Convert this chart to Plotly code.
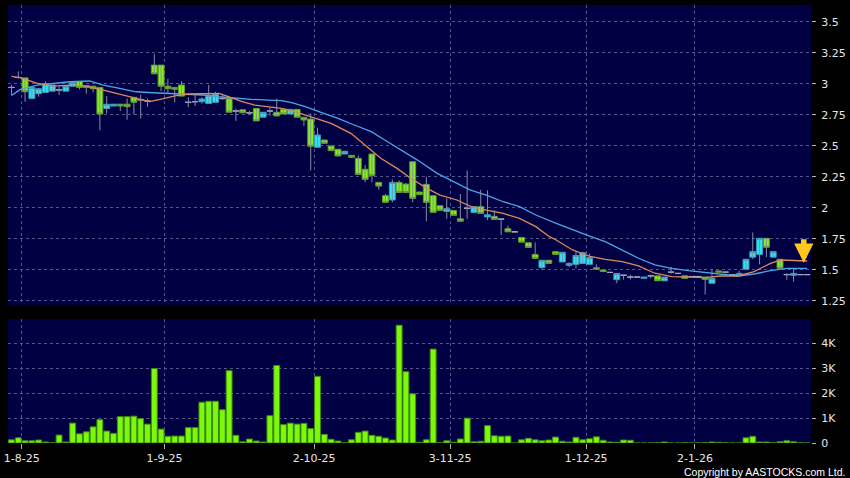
import plotly.graph_objects as go

# ---- data (one slot per trading session shown on the chart) ----
sessions = list(range(118))

opens = [
    2.97, 3.05, 3.047, 2.88, 2.92, 2.93, 2.94, 2.95, 2.94, 2.98,
    3.018, 2.985, 2.98, 2.97, 2.80, 2.82, 2.835, 2.835, 2.89, 2.87,
    2.86, 3.15, 3.15, 2.98, 2.97, 2.99, 2.85, 2.855, 2.855, 2.84,
    2.85, 2.88, 2.88, 2.78, 2.79, 2.765, 2.80, 2.73, 2.78, 2.77,
    2.793, 2.756, 2.793, 2.729, 2.715, 2.487, 2.546, 2.498, 2.471, 2.433,
    2.422, 2.398, 2.31, 2.433, 2.204, 2.097, 2.062, 2.204, 2.19, 2.371,
    2.126, 2.188, 2.097, 2.016, 1.97, 1.978, 1.91, 1.995, 1.962, 2.008,
    1.925, 1.93, 1.908, 1.83, 1.805, 1.76, 1.717, 1.623, 1.517, 1.576,
    1.645, 1.562, 1.535, 1.543, 1.55, 1.543, 1.516, 1.497, 1.478, 1.419,
    1.455, 1.44, 1.44, 1.43, 1.45, 1.45, 1.41, 1.48, 1.47, 1.45,
    1.445, 1.445, 1.44, 1.39, 1.49, 1.48, 1.46, 1.45, 1.503, 1.601,
    1.623, 1.753, 1.601, 1.584, 1.46, 1.455, 1.46, 1.46]

highs = [
    2.99, 3.10, 3.047, 2.97, 2.96, 3.02, 2.99, 2.98, 2.98, 3.01,
    3.018, 2.985, 2.98, 2.97, 2.90, 2.835, 2.835, 2.88, 2.89, 2.91,
    2.88, 3.24, 3.15, 3.04, 2.97, 3.02, 2.89, 2.91, 2.89, 2.99,
    2.935, 2.92, 2.88, 2.80, 2.79, 2.78, 2.80, 2.77, 2.81, 2.88,
    2.80, 2.793, 2.793, 2.729, 2.76, 2.645, 2.546, 2.498, 2.471, 2.455,
    2.422, 2.42, 2.344, 2.433, 2.204, 2.11, 2.228, 2.22, 2.20, 2.371,
    2.13, 2.25, 2.097, 2.016, 2.075, 1.978, 2.11, 2.30, 2.008, 2.144,
    2.14, 1.98, 1.91, 1.855, 1.805, 1.76, 1.717, 1.72, 1.576, 1.576,
    1.645, 1.64, 1.56, 1.645, 1.645, 1.63, 1.543, 1.497, 1.478, 1.47,
    1.46, 1.46, 1.44, 1.44, 1.46, 1.45, 1.44, 1.522, 1.47, 1.45,
    1.445, 1.445, 1.44, 1.50, 1.49, 1.48, 1.46, 1.49, 1.584, 1.80,
    1.753, 1.753, 1.646, 1.584, 1.471, 1.511, 1.46, 1.46]

lows = [
    2.907, 3.04, 2.854, 2.88, 2.895, 2.93, 2.94, 2.91, 2.94, 2.98,
    2.954, 2.92, 2.93, 2.625, 2.76, 2.82, 2.78, 2.71, 2.75, 2.72,
    2.815, 3.08, 2.94, 2.92, 2.85, 2.90, 2.81, 2.82, 2.84, 2.84,
    2.85, 2.87, 2.77, 2.70, 2.765, 2.75, 2.70, 2.73, 2.74, 2.74,
    2.755, 2.756, 2.729, 2.66, 2.30, 2.487, 2.519, 2.46, 2.417, 2.433,
    2.401, 2.268, 2.204, 2.204, 2.146, 2.043, 2.043, 2.123, 2.123, 2.043,
    2.105, 1.89, 1.962, 1.978, 1.91, 1.938, 1.89, 1.91, 1.962, 1.954,
    1.90, 1.905, 1.78, 1.805, 1.805, 1.722, 1.679, 1.59, 1.497, 1.55,
    1.623, 1.562, 1.52, 1.51, 1.55, 1.543, 1.503, 1.48, 1.478, 1.39,
    1.42, 1.42, 1.44, 1.43, 1.43, 1.41, 1.41, 1.468, 1.47, 1.43,
    1.445, 1.445, 1.30, 1.39, 1.48, 1.47, 1.46, 1.45, 1.503, 1.584,
    1.543, 1.601, 1.601, 1.511, 1.417, 1.403, 1.46, 1.46]

closes = [
    2.97, 3.05, 2.935, 2.97, 2.96, 3.00, 2.99, 2.95, 2.98, 3.01,
    2.97, 2.97, 2.96, 2.755, 2.834, 2.835, 2.82, 2.815, 2.85, 2.87,
    2.86, 3.08, 2.98, 2.96, 2.955, 2.90, 2.85, 2.855, 2.877, 2.908,
    2.92, 2.88, 2.77, 2.78, 2.765, 2.765, 2.70, 2.77, 2.78, 2.74,
    2.756, 2.793, 2.729, 2.707, 2.495, 2.587, 2.519, 2.46, 2.417, 2.455,
    2.406, 2.268, 2.228, 2.26, 2.174, 2.043, 2.204, 2.123, 2.123, 2.075,
    2.105, 2.043, 1.962, 1.978, 1.992, 1.938, 1.89, 1.995, 2.008, 1.954,
    1.943, 1.905, 1.908, 1.805, 1.805, 1.722, 1.679, 1.59, 1.576, 1.55,
    1.623, 1.64, 1.55, 1.615, 1.637, 1.597, 1.503, 1.485, 1.478, 1.47,
    1.455, 1.44, 1.44, 1.44, 1.45, 1.41, 1.44, 1.48, 1.47, 1.43,
    1.445, 1.445, 1.42, 1.43, 1.48, 1.48, 1.46, 1.47, 1.584, 1.646,
    1.753, 1.68, 1.646, 1.511, 1.46, 1.47, 1.46, 1.46]

volumes = [  # shares
    130, 210, 90, 90, 120, 40, 10, 320, 40, 800,
    370, 450, 650, 940, 480, 390, 1060, 1060, 1080, 980,
    760, 3000, 560, 270, 280, 280, 620, 620, 1640, 1680,
    1680, 1340, 2910, 310, 50, 160, 80, 40, 1100, 3120,
    740, 800, 760, 790, 580, 2680, 350, 150, 80, 10,
    130, 430, 480, 310, 270, 200, 120, 4740, 2870, 1980,
    30, 130, 3780, 10, 90, 30, 160, 1000, 50, 70,
    700, 290, 270, 280, 0, 130, 190, 130, 90, 120,
    240, 70, 40, 230, 130, 170, 250, 110, 40, 30,
    120, 110, 0, 0, 0, 10, 40, 0, 0, 10,
    0, 0, 20, 40, 30, 10, 0, 0, 210, 270,
    40, 40, 10, 50, 90, 50, 10, 0]

ma_short_x = [0, 1.3, 3.8, 6.2, 8.6, 11, 13.5, 15.9, 18.3, 20.3, 22.2, 24.2, 26.1, 28.1,
              30.5, 31.9, 33.9, 35.8, 37.8, 39.7, 41.2, 44.1, 47, 49.9, 51.4, 52.9, 54.3,
              56.7, 58.7, 61.1, 63, 65.5, 67.4, 69.8, 72.3, 74.7, 77.1, 79.1, 80.1, 82.5,
              84.9, 87.3, 89.8, 92.2, 94.6, 97.1, 99.5, 101.9, 104.3, 106.8, 109.2, 111.6,
              113.1, 115, 117]
ma_short = [3.06, 3.05, 3.003, 2.981, 2.989, 2.981, 2.949, 2.917, 2.882, 2.855, 2.877, 2.904,
            2.917, 2.922, 2.922, 2.895, 2.855, 2.828, 2.815, 2.801, 2.783, 2.729, 2.68, 2.60,
            2.53, 2.46, 2.398, 2.317, 2.237, 2.156, 2.102, 2.062, 2.013, 1.981, 1.954, 1.914,
            1.847, 1.766, 1.739, 1.659, 1.61, 1.583, 1.565, 1.53, 1.471, 1.444, 1.438, 1.436,
            1.449, 1.449, 1.484, 1.551, 1.578, 1.573, 1.57]

ma_long_x = [0, 1.3, 3.8, 6.2, 8.6, 11.5, 13.5, 15.9, 18.3, 20.8, 23.2, 25.6, 28.1, 30.5,
             32.9, 35.3, 37.8, 39.7, 41.2, 43.2, 45.6, 48, 50.4, 52.9, 55.3, 57.7, 59.7,
             62.6, 65.5, 67.4, 69.8, 72.3, 74.7, 77.1, 80.1, 82.5, 84.9, 87.3, 89.8, 92.2,
             94.6, 97.1, 99.5, 101.9, 104.3, 106.8, 109.2, 111.6, 114, 117]
ma_long = [2.905, 2.954, 2.989, 3.003, 3.016, 3.022, 2.989, 2.962, 2.935, 2.927, 2.922, 2.917,
           2.909, 2.895, 2.882, 2.874, 2.868, 2.863, 2.847, 2.815, 2.766, 2.721, 2.667, 2.613,
           2.532, 2.452, 2.384, 2.277, 2.196, 2.143, 2.102, 2.048, 2.008, 1.941, 1.874, 1.82,
           1.772, 1.726, 1.659, 1.592, 1.538, 1.511, 1.492, 1.476, 1.465, 1.449, 1.465, 1.492,
           1.511, 1.511]

date_tick_pos = [1.5, 22.5, 44.5, 64.5, 84.5, 100.5]
date_tick_labels = ["1-8-25", "1-9-25", "2-10-25", "3-11-25", "1-12-25", "2-1-26"]
price_ticks = [1.25, 1.5, 1.75, 2.0, 2.25, 2.5, 2.75, 3.0, 3.25, 3.5]
price_tick_labels = ["1.25", "1.5", "1.75", "2", "2.25", "2.5", "2.75", "3", "3.25", "3.5"]
vol_ticks = [0, 1000, 2000, 3000, 4000]
vol_tick_labels = ["0", "1K", "2K", "3K", "4K"]

signal_session = 116.5
signal_price = 1.555

# ---- styling ----
NAVY = "#000042"
GRID = "#55558a"
TXT = "#e6e6e6"
GREEN = "#84f01c"
GREEN_EDGE = "#5c9c28"
CYAN = "#2ee4f4"
CYAN_EDGE = "#3a9ab8"
DOJI = "#a4a4bc"
WICK = "#8a8aa6"

fig = go.Figure()

# moving averages
fig.add_trace(go.Scatter(x=ma_long_x, y=ma_long, mode="lines",
                         line=dict(color="#4aa6e6", width=1.3), hoverinfo="skip"))
fig.add_trace(go.Scatter(x=ma_short_x, y=ma_short, mode="lines",
                         line=dict(color="#e0875c", width=1.3), hoverinfo="skip"))

# wicks
wx, wy = [], []
for s, h, l in zip(sessions, highs, lows):
    wx += [s, s, None]
    wy += [l, h, None]
fig.add_trace(go.Scatter(x=wx, y=wy, mode="lines", line=dict(color=WICK, width=1),
                         connectgaps=False, hoverinfo="skip"))

# bodies
body_idx = [k for k in sessions if opens[k] != closes[k]]
doji_idx = [k for k in sessions if opens[k] == closes[k]]

fig.add_trace(go.Candlestick(
    x=[sessions[k] for k in body_idx],
    open=[opens[k] for k in body_idx],
    close=[closes[k] for k in body_idx],
    high=[max(opens[k], closes[k]) for k in body_idx],
    low=[min(opens[k], closes[k]) for k in body_idx],
    increasing=dict(fillcolor=CYAN, line=dict(color=CYAN_EDGE, width=1)),
    decreasing=dict(fillcolor=GREEN, line=dict(color=GREEN_EDGE, width=1)),
    whiskerwidth=0, hoverinfo="skip"))

fig.add_trace(go.Candlestick(
    x=[sessions[k] for k in doji_idx],
    open=[opens[k] for k in doji_idx],
    close=[closes[k] for k in doji_idx],
    high=[opens[k] for k in doji_idx],
    low=[opens[k] for k in doji_idx],
    increasing=dict(fillcolor=DOJI, line=dict(color=DOJI, width=1)),
    decreasing=dict(fillcolor=DOJI, line=dict(color=DOJI, width=1)),
    whiskerwidth=0, hoverinfo="skip"))

# volume
fig.add_trace(go.Bar(x=sessions, y=volumes, xaxis="x2", yaxis="y2",
                     marker=dict(color="#7cf80a", line=dict(color="#3e8a10", width=1)),
                     hoverinfo="skip"))

axis_font = dict(family="DejaVu Sans", size=11, color=TXT)
grid_common = dict(showgrid=True, gridcolor=GRID, griddash="3px,3px", gridwidth=1,
                   zeroline=False, showline=False)

fig.update_layout(
    width=850, height=478,
    margin=dict(l=4, r=36, t=5, b=35),
    paper_bgcolor="#000000", plot_bgcolor=NAVY,
    showlegend=False,
    boxgap=0.1, boxgroupgap=0.03, bargap=0.13,
    xaxis=dict(domain=[0, 1], anchor="y", range=[-0.51, 117.56],
               tickvals=date_tick_pos, showticklabels=False, ticks="",
               rangeslider=dict(visible=False), **grid_common),
    xaxis2=dict(domain=[0, 1], anchor="y2", range=[-0.51, 117.56], matches="x",
                tickvals=date_tick_pos, ticktext=date_tick_labels,
                ticks="outside", ticklen=5, tickcolor="#b0b0b0", tickfont=axis_font,
                ticklabeloverflow="allow", **grid_common),
    yaxis=dict(domain=[0.3151, 1], anchor="x", side="right", range=[1.215, 3.635],
               tickvals=price_ticks, ticktext=price_tick_labels,
               ticks="outside", ticklen=4, tickcolor="#b0b0b0", tickfont=axis_font,
               ticklabelstandoff=3, **grid_common),
    yaxis2=dict(domain=[0, 0.2831], anchor="x2", side="right", range=[0, 4990],
                tickvals=vol_ticks, ticktext=vol_tick_labels,
                ticks="outside", ticklen=4, tickcolor="#b0b0b0", tickfont=axis_font,
                ticklabelstandoff=3, **grid_common),
    annotations=[
        dict(x=signal_session, y=signal_price, xref="x", yref="y", text="",
             showarrow=True, arrowhead=2, arrowsize=0.7, arrowwidth=5.5,
             arrowcolor="#ffc81e", ax=0, ay=-25),
        dict(text="Copyright by AASTOCKS.com Ltd.", xref="paper", yref="paper",
             x=(850 - 4) / 810, y=(443 - 472) / 438, xanchor="right", yanchor="middle",
             showarrow=False, font=dict(family="Liberation Sans", size=10.5, color="#ffffff")),
    ],
)

# the page's default 8px body margin would shift the whole figure; remove it
fig.write_html("out.html", config={"displayModeBar": False},
               post_script="document.body.style.margin='0';")
